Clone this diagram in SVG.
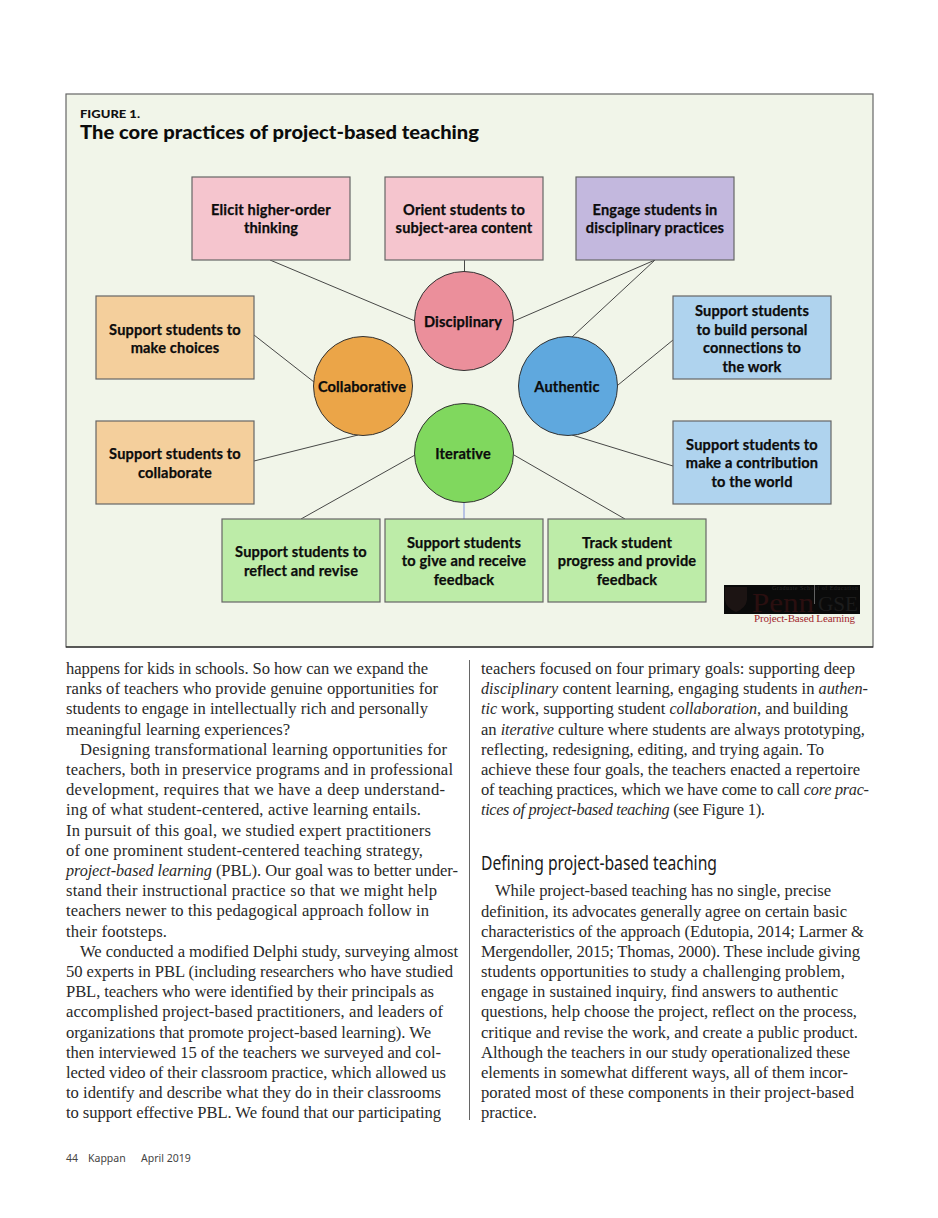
<svg xmlns="http://www.w3.org/2000/svg" width="938" height="1218" viewBox="0 0 938 1218">
<style>
.b{font-family:"Liberation Serif",serif;font-size:16.6px;fill:#2a2a2a}
.b tspan{font-style:italic;font-size:16.2px}
.l{font-family:"Lato","Noto Sans",sans-serif;font-size:14.6px;font-weight:700;fill:#0c0c0c;stroke:#0c0c0c;stroke-width:.25px;letter-spacing:.15px;text-anchor:middle}
.r{stroke:#666;stroke-width:1.2}
.c{stroke:#333;stroke-width:1}
.k line{stroke:#333;stroke-width:.9}
.pink{fill:#f5c5ce}.pur{fill:#c3b8de}.org{fill:#f4cf9c}.blu{fill:#afd3ee}.grn{fill:#bdeca8}
</style>
<rect width="938" height="1218" fill="#fff"/>
<rect x="66" y="94" width="807" height="553" fill="#f1f5e9" stroke="#666" stroke-width="1.2"/>
<line x1="66" y1="647" x2="873" y2="647" stroke="#111" stroke-width="1"/>
<text x="80" y="117.5" font-family="Lato,sans-serif" font-size="11.5" font-weight="900" fill="#111" textLength="60" lengthAdjust="spacingAndGlyphs">FIGURE 1.</text>
<text x="80" y="139" font-family="Lato,sans-serif" font-size="19.5" font-weight="900" fill="#0c0c0c" textLength="399" lengthAdjust="spacingAndGlyphs">The core practices of project-based teaching</text>
<g id="connectors" class="k">
<line x1="270" y1="260" x2="415" y2="321"/>
<line x1="464.5" y1="260" x2="464.5" y2="272"/>
<line x1="655" y1="260" x2="514" y2="321"/>
<line x1="655" y1="260" x2="572" y2="337"/>
<line x1="254" y1="335" x2="314" y2="382"/>
<line x1="254" y1="461" x2="358" y2="435"/>
<line x1="673" y1="340" x2="618" y2="385"/>
<line x1="673" y1="466" x2="572" y2="435"/>
<line x1="301" y1="519" x2="415" y2="455"/>
<line x1="464" y1="503" x2="464" y2="519" style="stroke:#9aa8e0;stroke-width:1.3"/>
<line x1="625" y1="519" x2="514" y2="455"/>
</g>
<g id="elicit"><rect class="r pink" x="192" y="177" width="158" height="83"/><text class="l" x="271" y="215">Elicit higher-order</text><text class="l" x="271" y="233">thinking</text></g>
<g id="orient"><rect class="r pink" x="385" y="177" width="158" height="83"/><text class="l" x="464" y="215">Orient students to</text><text class="l" x="464" y="233">subject-area content</text></g>
<g id="engage"><rect class="r pur" x="576" y="177" width="158" height="83"/><text class="l" x="655" y="215">Engage students in</text><text class="l" x="655" y="233">disciplinary practices</text></g>
<g id="choices"><rect class="r org" x="96" y="296" width="158" height="83"/><text class="l" x="175" y="335">Support students to</text><text class="l" x="175" y="353">make choices</text></g>
<g id="collaborate"><rect class="r org" x="96" y="421" width="158" height="83"/><text class="l" x="175" y="459">Support students to</text><text class="l" x="175" y="478">collaborate</text></g>
<g id="personal"><rect class="r blu" x="673" y="296" width="158" height="83"/><text class="l" x="752" y="316">Support students</text><text class="l" x="752" y="335">to build personal</text><text class="l" x="752" y="353">connections to</text><text class="l" x="752" y="372">the work</text></g>
<g id="contribution"><rect class="r blu" x="673" y="421" width="158" height="83"/><text class="l" x="752" y="450">Support students to</text><text class="l" x="752" y="468">make a contribution</text><text class="l" x="752" y="487">to the world</text></g>
<g id="reflect"><rect class="r grn" x="222" y="519" width="158" height="83"/><text class="l" x="301" y="557">Support students to</text><text class="l" x="301" y="576">reflect and revise</text></g>
<g id="feedback"><rect class="r grn" x="385" y="519" width="158" height="83"/><text class="l" x="464" y="548">Support students</text><text class="l" x="464" y="566">to give and receive</text><text class="l" x="464" y="585">feedback</text></g>
<g id="track"><rect class="r grn" x="548" y="519" width="158" height="83"/><text class="l" x="627" y="548">Track student</text><text class="l" x="627" y="566">progress and provide</text><text class="l" x="627" y="585">feedback</text></g>
<g id="disciplinary"><circle class="c" cx="464" cy="321" r="49.5" fill="#eb8f9b"/><text class="l" x="463" y="327">Disciplinary</text></g>
<g id="collaborative"><circle class="c" cx="363" cy="386" r="49.5" fill="#eba548"/><text class="l" x="362" y="392">Collaborative</text></g>
<g id="authentic"><circle class="c" cx="568" cy="386" r="49.5" fill="#5fa8de"/><text class="l" x="567" y="392">Authentic</text></g>
<g id="iterative"><circle class="c" cx="464" cy="453" r="49.5" fill="#80d85e"/><text class="l" x="463" y="459">Iterative</text></g>
<g id="logo">
<rect x="724" y="585" width="136" height="29" fill="#0a0a0a"/>
<path d="M725 587h22v13q-1 8-11 12q-10-4-11-12z" fill="#1c1413"/>
<text x="772" y="590" font-family="Liberation Serif,serif" font-size="6" fill="#2a2a2a" textLength="86">Graduate School of Education</text>
<text x="752" y="612" font-family="Liberation Serif,serif" font-size="27" fill="#2a0f10" textLength="62" lengthAdjust="spacingAndGlyphs">Penn</text>
<text x="818" y="611" font-family="Liberation Serif,serif" font-size="20" fill="#1c1c1c" textLength="40" lengthAdjust="spacingAndGlyphs">GSE</text>
<line x1="814.5" y1="585" x2="814.5" y2="604" stroke="#777" stroke-width=".8"/>
<text x="754" y="622" font-family="Liberation Serif,serif" font-size="11" fill="#a42a30" textLength="101">Project-Based Learning</text>
</g>
<line x1="469.5" y1="660" x2="469.5" y2="1120" stroke="#666" stroke-width="1"/>
<g id="column-left">
<text class="b" x="66" y="674" textLength="362">happens for kids in schools. So how can we expand the</text>
<text class="b" x="66" y="694" textLength="372">ranks of teachers who provide genuine opportunities for</text>
<text class="b" x="66" y="714" textLength="362">students to engage in intellectually rich and personally</text>
<text class="b" x="66" y="735" textLength="224">meaningful learning experiences?</text>
<text class="b" x="80" y="755" textLength="367">Designing transformational learning opportunities for</text>
<text class="b" x="66" y="775" textLength="387">teachers, both in preservice programs and in professional</text>
<text class="b" x="66" y="795" textLength="379">development, requires that we have a deep understand-</text>
<text class="b" x="66" y="815" textLength="355">ing of what student-centered, active learning entails.</text>
<text class="b" x="66" y="836" textLength="365">In pursuit of this goal, we studied expert practitioners</text>
<text class="b" x="66" y="856" textLength="357">of one prominent student-centered teaching strategy,</text>
<text class="b" x="66" y="876" textLength="392"><tspan>project-based learning</tspan> (PBL). Our goal was to better under-</text>
<text class="b" x="66" y="896" textLength="371">stand their instructional practice so that we might help</text>
<text class="b" x="66" y="916" textLength="363">teachers newer to this pedagogical approach follow in</text>
<text class="b" x="66" y="937" textLength="101">their footsteps.</text>
<text class="b" x="80" y="957" textLength="378">We conducted a modified Delphi study, surveying almost</text>
<text class="b" x="66" y="977" textLength="387">50 experts in PBL (including researchers who have studied</text>
<text class="b" x="66" y="997" textLength="368">PBL, teachers who were identified by their principals as</text>
<text class="b" x="66" y="1017" textLength="377">accomplished project-based practitioners, and leaders of</text>
<text class="b" x="66" y="1038" textLength="365">organizations that promote project-based learning). We</text>
<text class="b" x="66" y="1058" textLength="375">then interviewed 15 of the teachers we surveyed and col-</text>
<text class="b" x="66" y="1078" textLength="380">lected video of their classroom practice, which allowed us</text>
<text class="b" x="66" y="1098" textLength="375">to identify and describe what they do in their classrooms</text>
<text class="b" x="66" y="1118" textLength="375">to support effective PBL. We found that our participating</text>
</g>
<g id="column-right">
<text class="b" x="481" y="674" textLength="374">teachers focused on four primary goals: supporting deep</text>
<text class="b" x="481" y="694" textLength="387"><tspan>disciplinary</tspan> content learning, engaging students in <tspan>authen-</tspan></text>
<text class="b" x="481" y="714" textLength="367"><tspan>tic</tspan> work, supporting student <tspan>collaboration</tspan>, and building</text>
<text class="b" x="481" y="735" textLength="384">an <tspan>iterative</tspan> culture where students are always prototyping,</text>
<text class="b" x="481" y="755" textLength="343">reflecting, redesigning, editing, and trying again. To</text>
<text class="b" x="481" y="775" textLength="379">achieve these four goals, the teachers enacted a repertoire</text>
<text class="b" x="481" y="795" textLength="388">of teaching practices, which we have come to call <tspan>core prac-</tspan></text>
<text class="b" x="481" y="815" textLength="284"><tspan>tices of project-based teaching</tspan> (see Figure 1).</text>
<text x="481" y="870" font-family="Noto Sans,sans-serif" font-size="20" fill="#1a1a1a" textLength="236" lengthAdjust="spacingAndGlyphs">Defining project-based teaching</text>
<text class="b" x="495" y="896" textLength="336">While project-based teaching has no single, precise</text>
<text class="b" x="481" y="917" textLength="366">definition, its advocates generally agree on certain basic</text>
<text class="b" x="481" y="937" textLength="383">characteristics of the approach (Edutopia, 2014; Larmer &amp;</text>
<text class="b" x="481" y="957" textLength="379">Mergendoller, 2015; Thomas, 2000). These include giving</text>
<text class="b" x="481" y="977" textLength="364">students opportunities to study a challenging problem,</text>
<text class="b" x="481" y="997" textLength="357">engage in sustained inquiry, find answers to authentic</text>
<text class="b" x="481" y="1017" textLength="376">questions, help choose the project, reflect on the process,</text>
<text class="b" x="481" y="1038" textLength="377">critique and revise the work, and create a public product.</text>
<text class="b" x="481" y="1058" textLength="369">Although the teachers in our study operationalized these</text>
<text class="b" x="481" y="1078" textLength="367">elements in somewhat different ways, all of them incor-</text>
<text class="b" x="481" y="1098" textLength="373">porated most of these components in their project-based</text>
<text class="b" x="481" y="1118" textLength="56">practice.</text>
</g>
<text x="66" y="1162" font-family="Noto Sans,sans-serif" font-size="10.5" fill="#444">44</text>
<text x="88" y="1162" font-family="Noto Sans,sans-serif" font-size="10.5" fill="#444">Kappan</text>
<text x="141" y="1162" font-family="Noto Sans,sans-serif" font-size="10.5" fill="#444">April 2019</text>
</svg>
